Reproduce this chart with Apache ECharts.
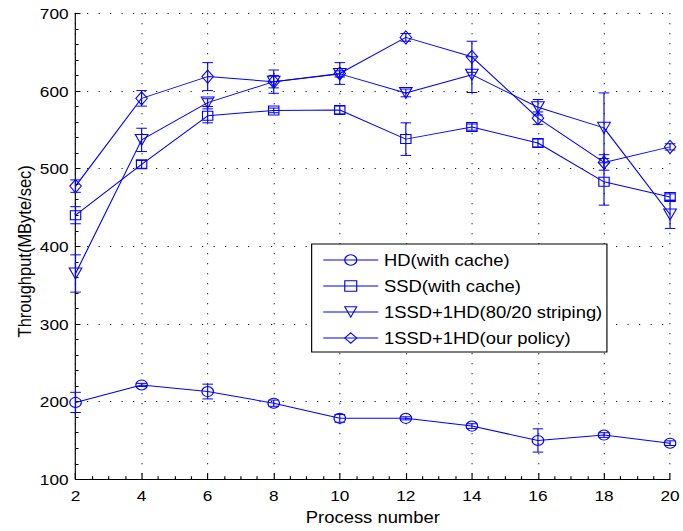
<!DOCTYPE html>
<html><head><meta charset="utf-8">
<script src="https://cdn.jsdelivr.net/npm/echarts@6/dist/echarts.min.js"></script>
<style>
html,body{margin:0;padding:0;background:#fff;overflow:hidden}
#wrap{width:683px;height:531px;overflow:hidden}
#c{width:594px;height:531px;transform:scaleX(1.15);transform-origin:0 0}
</style>
</head><body><div id="wrap"><div id="c"></div></div>
<script>
// ---- data ----
const processNumbers = [2, 4, 6, 8, 10, 12, 14, 16, 18, 20];
const seriesNames = ['HD(with cache)', 'SSD(with cache)', '1SSD+1HD(80/20 striping)', '1SSD+1HD(our policy)'];
const hdCache      = [199, 221.5, 213, 198, 178.5, 178.5, 168.5, 150, 157, 146.5];
const hdCacheErr   = [13, 2, 9.5, 4, 5, 2, 3, 15, 3, 3];
const ssdCache     = [440, 505.5, 568, 575, 575.5, 538, 553.5, 533, 483, 463.5];
const ssdCacheErr  = [11, 5, 9, 3, 5, 21, 4, 5, 30, 4];
const striping     = [365, 537, 585, 612, 622, 597.5, 621, 579, 552.5, 441];
const stripingErr  = [24, 15, 5, 8, 4, 5, 23, 10, 45, 18];
const ourPolicy    = [477.5, 590.5, 618.5, 612, 622.5, 669, 644, 565, 508, 528];
const ourPolicyErr = [8, 10, 18, 15, 14, 5, 20, 8, 10, 4];
const yTicks = [100, 200, 300, 400, 500, 600, 700];

const BLUE = '#0000ff';
const FONT = '"Liberation Sans", Arial, Helvetica, sans-serif';
const values = [hdCache, ssdCache, striping, ourPolicy];
const errors = [hdCacheErr, ssdCacheErr, stripingErr, ourPolicyErr];
const symbols = ['circle', 'rect', 'path://M0,0 L10,0 L5,10 Z', 'diamond'];
const symbolSizes = [10, 9, [11, 11], [10, 13]];

function renderErr(params, api) {
  const x = api.value(0), lo = api.value(1), hi = api.value(2);
  const pHi = api.coord([x, hi]), pLo = api.coord([x, lo]);
  const w = 4.6;
  const style = { stroke: BLUE, lineWidth: 1, fill: null };
  return { type: 'group', children: [
    { type: 'line', shape: { x1: pHi[0], y1: pHi[1], x2: pLo[0], y2: pLo[1] }, style: style },
    { type: 'line', shape: { x1: pHi[0] - w, y1: pHi[1], x2: pHi[0] + w, y2: pHi[1] }, style: style },
    { type: 'line', shape: { x1: pLo[0] - w, y1: pLo[1], x2: pLo[0] + w, y2: pLo[1] }, style: style }
  ]};
}

const series = [];
values.forEach(function (v, k) {
  series.push({
    name: seriesNames[k], type: 'line',
    data: processNumbers.map(function (x, i) { return [x, v[i]]; }),
    symbol: symbols[k], symbolSize: symbolSizes[k], showAllSymbol: true,
    lineStyle: { color: BLUE, width: 1 },
    itemStyle: { color: 'rgba(0,0,0,0)', borderColor: BLUE, borderWidth: 1 },
    emphasis: { disabled: true }, z: 3
  });
});
values.forEach(function (v, k) {
  series.push({
    name: 'err' + k, type: 'custom', renderItem: renderErr,
    encode: { x: 0, y: [1, 2] },
    data: processNumbers.map(function (x, i) { return [x, v[i] - errors[k][i], v[i] + errors[k][i]]; }),
    z: 4, silent: true
  });
});

const dotted = { color: '#000', width: 1, type: [1, 9] };
const chart = echarts.init(document.getElementById('c'), null, { renderer: 'svg' });
chart.setOption({
  animation: false,
  backgroundColor: '#fff',
  textStyle: { fontFamily: FONT },
  grid: { left: 65.7, top: 13.3, width: 517.2, height: 466 },
  xAxis: {
    type: 'value', min: 2, max: 20, interval: 2,
    name: 'Process number', nameLocation: 'middle', nameGap: 30, nameMoveOverlap: false,
    nameTextStyle: { fontSize: 16, color: '#000', fontFamily: FONT },
    axisLine: { show: true, lineStyle: { color: '#000', width: 1 } },
    axisTick: { show: true, inside: true, length: 6, lineStyle: { color: '#000' } },
    minorTick: { show: true, splitNumber: 4, length: 3, lineStyle: { color: '#000' } },
    axisLabel: { fontSize: 15, color: '#000', margin: 9, fontFamily: FONT },
    splitLine: { show: true, lineStyle: dotted }
  },
  yAxis: {
    type: 'value', min: 100, max: 700, interval: 100,
    name: 'Throughput(MByte/sec)', nameLocation: 'middle', nameGap: 36, nameMoveOverlap: false,
    nameTextStyle: { fontSize: 16.5, color: '#000', fontFamily: FONT, padding: [0, 10, 0, 0] },
    axisLine: { show: true, lineStyle: { color: '#000', width: 1 } },
    axisTick: { show: true, inside: true, length: 4.3, lineStyle: { color: '#000' } },
    minorTick: { show: true, splitNumber: 5, length: 2.6, lineStyle: { color: '#000' } },
    axisLabel: { fontSize: 15, color: '#000', margin: 6, fontFamily: FONT,
      formatter: function (val) { return yTicks.indexOf(val) >= 0 ? String(val) : ''; } },
    splitLine: { show: true, lineStyle: dotted }
  },
  legend: {
    data: seriesNames, orient: 'vertical', left: 271, top: 244,
    backgroundColor: '#fff', borderColor: '#000', borderWidth: 1, borderRadius: 0,
    padding: [8, 4, 6, 9.6], itemGap: 10, itemWidth: 47.8, itemHeight: 13,
    itemStyle: { color: 'rgba(0,0,0,0)', borderColor: BLUE, borderWidth: 1 },
    lineStyle: { color: BLUE, width: 1 },
    textStyle: { fontSize: 16, color: '#000', fontFamily: FONT },
    selectedMode: false
  },
  series: series
});
</script>
</body></html>
